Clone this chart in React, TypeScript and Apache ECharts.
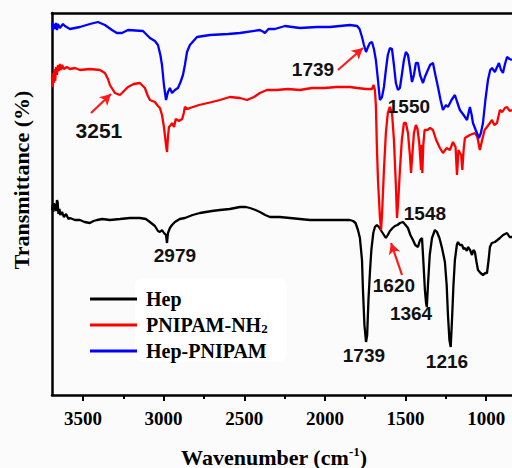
import React, { useEffect, useRef } from 'react';
import * as echarts from 'echarts';

const xMin = 840;
const xMax = 3692;
const majorTicks = [1000, 1500, 2000, 2500, 3000, 3500];
const minorTicks = [1250, 1750, 2250, 2750, 3250];
const seriesNames = ['Hep', 'PNIPAM-NH2', 'Hep-PNIPAM'];
const seriesColors = ['#000000', '#ff0000', '#0000ff'];

// [wavenumber (cm-1), transmittance (arb. units)]
const hep: number[][] = [
  [3692, 185], [3688, 190], [3684, 183], [3680, 192], [3676, 186], [3672, 191], [3667, 184], [3661, 195],
  [3657, 193], [3652, 181], [3646, 186], [3640, 180], [3630, 183], [3618, 178], [3605, 181], [3590, 176],
  [3581, 177], [3550, 175], [3519, 175], [3490, 173], [3457, 172], [3435, 174], [3413, 175], [3380, 176],
  [3333, 175], [3270, 176], [3209, 177], [3147, 177], [3110, 176], [3085, 173], [3054, 169], [3035, 164],
  [3023, 163], [3010, 165], [2998, 162], [2985, 160], [2979, 152], [2973, 162], [2961, 167], [2948, 170],
  [2930, 173], [2900, 176], [2868, 177], [2820, 180], [2775, 182], [2700, 184], [2651, 185], [2590, 186],
  [2527, 188], [2490, 188], [2465, 187], [2430, 185], [2403, 183], [2370, 180], [2341, 178], [2280, 178],
  [2217, 177], [2155, 176], [2093, 175], [2000, 175], [1930, 175], [1845, 175], [1825, 174], [1810, 172],
  [1795, 165], [1783, 157], [1770, 135], [1764, 105], [1755, 70], [1745, 53], [1738, 60], [1730, 95],
  [1720, 125], [1712, 145], [1700, 162], [1690, 168], [1678, 170], [1665, 168], [1646, 163], [1634, 160],
  [1622, 157], [1610, 160], [1597, 164], [1580, 167], [1566, 169], [1550, 170], [1535, 172], [1516, 173],
  [1500, 170], [1485, 167], [1470, 160], [1454, 155], [1440, 150], [1423, 148], [1410, 155], [1398, 157],
  [1390, 135], [1380, 105], [1373, 92], [1368, 88], [1361, 110], [1350, 140], [1336, 157], [1318, 165],
  [1305, 163], [1290, 157], [1274, 147], [1256, 133], [1245, 110], [1237, 80], [1228, 55], [1220, 48],
  [1212, 75], [1203, 110], [1194, 135], [1182, 150], [1175, 153], [1163, 150], [1150, 150], [1140, 146],
  [1132, 147], [1120, 144], [1113, 148], [1100, 145], [1088, 140], [1079, 145], [1070, 143], [1060, 133],
  [1051, 125], [1035, 122], [1020, 120], [1005, 122], [995, 122], [985, 135], [977, 148], [965, 152],
  [946, 153], [930, 155], [915, 157], [895, 160], [871, 162], [855, 158], [840, 158],
];

const pnipamNH2: number[][] = [
  [3692, 318], [3688, 308], [3684, 322], [3680, 312], [3676, 326], [3672, 314], [3667, 328], [3661, 320],
  [3655, 330], [3649, 324], [3643, 331], [3636, 325], [3630, 330], [3618, 326], [3600, 328], [3581, 326],
  [3550, 327], [3519, 325], [3457, 326], [3395, 325], [3364, 322], [3345, 316], [3333, 310], [3302, 302],
  [3271, 300], [3258, 302], [3240, 305], [3221, 308], [3185, 311], [3147, 312], [3116, 307], [3100, 300],
  [3085, 295], [3054, 293], [3035, 289], [3023, 287], [3010, 280], [2998, 268], [2985, 250], [2979, 243],
  [2973, 258], [2967, 268], [2955, 270], [2948, 272], [2935, 268], [2925, 276], [2905, 274], [2885, 276],
  [2875, 282], [2868, 288], [2850, 286], [2837, 287], [2780, 290], [2700, 293], [2651, 295], [2590, 298],
  [2527, 297], [2483, 295], [2440, 298], [2403, 302], [2360, 305], [2300, 305], [2230, 306], [2155, 305],
  [2080, 307], [2000, 307], [1930, 308], [1845, 308], [1800, 307], [1745, 306], [1708, 306], [1698, 310],
  [1690, 305], [1684, 290], [1678, 250], [1671, 215], [1659, 178], [1652, 165], [1646, 180], [1634, 225],
  [1622, 262], [1610, 282], [1597, 288], [1584, 282], [1572, 255], [1560, 210], [1553, 177], [1545, 195],
  [1535, 225], [1523, 255], [1510, 272], [1498, 272], [1485, 262], [1473, 240], [1466, 222], [1458, 240],
  [1448, 262], [1436, 270], [1426, 266], [1415, 252], [1404, 225], [1400, 250], [1396, 222], [1390, 250],
  [1382, 265], [1365, 265], [1348, 267], [1330, 265], [1310, 255], [1287, 247], [1268, 242], [1245, 247],
  [1225, 245], [1206, 253], [1190, 248], [1181, 220], [1172, 245], [1163, 242], [1155, 240], [1148, 225],
  [1140, 245], [1132, 257], [1101, 260], [1070, 262], [1055, 258], [1039, 245], [1025, 255], [1010, 265],
  [995, 268], [977, 272], [964, 275], [950, 270], [933, 272], [915, 285], [900, 283], [884, 287],
  [871, 288], [855, 284], [840, 285],
];

const hepPnipam: number[][] = [
  [3692, 372], [3686, 365], [3680, 371], [3674, 366], [3667, 372], [3661, 365], [3655, 371], [3643, 367],
  [3624, 371], [3612, 369], [3581, 366], [3550, 367], [3519, 368], [3457, 371], [3407, 373], [3364, 370],
  [3320, 365], [3290, 362], [3258, 362], [3221, 365], [3128, 364], [3085, 357], [3054, 354], [3035, 350],
  [3020, 340], [3010, 330], [2998, 310], [2985, 295], [2973, 303], [2961, 307], [2948, 302], [2930, 305],
  [2911, 307], [2895, 313], [2880, 320], [2868, 330], [2855, 343], [2837, 350], [2793, 358], [2713, 360],
  [2600, 361], [2527, 362], [2403, 365], [2380, 363], [2372, 362], [2350, 366], [2310, 366], [2248, 369],
  [2155, 367], [2050, 368], [1969, 368], [1845, 370], [1800, 369], [1785, 366], [1770, 358], [1758, 350],
  [1745, 343], [1733, 348], [1721, 352], [1708, 353], [1696, 346], [1684, 335], [1671, 315], [1659, 295],
  [1646, 298], [1634, 308], [1622, 325], [1610, 340], [1597, 347], [1584, 346], [1572, 330], [1560, 312],
  [1547, 305], [1535, 307], [1523, 320], [1510, 335], [1498, 343], [1485, 340], [1473, 328], [1460, 313],
  [1448, 320], [1436, 332], [1423, 332], [1410, 320], [1392, 312], [1380, 318], [1367, 323], [1348, 330],
  [1330, 332], [1315, 320], [1299, 308], [1283, 295], [1268, 285], [1250, 290], [1237, 288], [1215, 295],
  [1194, 300], [1178, 292], [1163, 285], [1140, 280], [1119, 275], [1101, 288], [1090, 280], [1082, 272],
  [1065, 265], [1045, 257], [1033, 262], [1020, 272], [1005, 295], [989, 315], [975, 325], [964, 327],
  [946, 323], [935, 327], [921, 332], [908, 325], [896, 322], [885, 330], [871, 338], [855, 336],
  [840, 335],
];

// peak annotations: text, wavenumber, transmittance, font size
const peakLabels: [string, number, number, number][] = [
  ['3251', 3401, 265, 21],
  ['1739', 2074, 326, 19],
  ['1550', 1479, 289, 19],
  ['2979', 2930, 140, 19],
  ['1548', 1380, 182, 19],
  ['1620', 1572, 110, 19],
  ['1364', 1466, 82, 19],
  ['1739', 1758, 40, 19],
  ['1216', 1243, 34, 19],
];

// arrows: from [w, t] to [w, t]
const arrows: number[][][] = [
  [[3450, 282], [3326, 301]],
  [[1919, 325], [1764, 347]],
  [[1522, 120], [1590, 152]],
];

const serif = 'Liberation Serif';
const sans = 'Liberation Sans';

function buildOption() {
  const datasets = [hep, pnipamNH2, hepPnipam];
  const series: any[] = datasets.map((d, i) => ({
    name: seriesNames[i],
    type: 'line',
    data: d,
    showSymbol: false,
    symbol: 'none',
    smooth: false,
    lineStyle: { color: seriesColors[i], width: 2.3 },
    itemStyle: { color: seriesColors[i] },
    emphasis: { disabled: true },
    silent: true,
    z: 2 + i,
  }));
  series[0].markPoint = {
    symbol: 'circle',
    symbolSize: 1,
    silent: true,
    itemStyle: { color: 'rgba(0,0,0,0)' },
    label: {
      show: true,
      position: 'inside',
      color: '#111',
      fontFamily: sans,
      fontWeight: 'bold',
      fontSize: 19,
      formatter: '{b}',
    },
    data: peakLabels.map(([t, w, v, s]) => ({ name: t, coord: [w, v], label: { fontSize: s } })),
  };
  series[1].markLine = {
    silent: true,
    symbol: ['none', 'arrow'],
    symbolSize: [9, 11],
    lineStyle: { color: '#ff1a1a', width: 2.2, type: 'solid' },
    label: { show: false },
    emphasis: { disabled: true },
    data: arrows.map(([a, b]) => [{ coord: a }, { coord: b }]),
  };

  const axisLineStyle = { color: '#000', width: 2.5 };
  return {
    animation: false,
    backgroundColor: '#fbfbfb',
    grid: { left: 52, right: 0, top: 13, bottom: 73, containLabel: false },
    xAxis: [
      {
        type: 'value', min: xMin, max: xMax, inverse: true, position: 'bottom',
        axisLine: { show: true, onZero: false, lineStyle: axisLineStyle },
        axisTick: { show: true, inside: false, length: 6, lineStyle: { color: '#000', width: 2 }, customValues: majorTicks },
        axisLabel: {
          show: true, customValues: majorTicks, margin: 14, color: '#000',
          fontFamily: serif, fontWeight: 'bold', fontSize: 19,
          formatter: (v: number) => String(v),
        },
        splitLine: { show: false },
      },
      {
        type: 'value', min: xMin, max: xMax, inverse: true, position: 'bottom',
        axisLine: { show: false, onZero: false },
        axisTick: { show: true, inside: false, length: 4, lineStyle: { color: '#000', width: 2 }, customValues: minorTicks },
        axisLabel: { show: false },
        splitLine: { show: false },
      },
      {
        type: 'value', min: xMin, max: xMax, inverse: true, position: 'top',
        axisLine: { show: true, onZero: false, lineStyle: axisLineStyle },
        axisTick: { show: false },
        axisLabel: { show: false },
        splitLine: { show: false },
      },
    ],
    yAxis: {
      type: 'value', min: 0, max: 382,
      axisLine: { show: true, onZero: false, lineStyle: axisLineStyle },
      axisTick: { show: false },
      axisLabel: { show: false },
      splitLine: { show: false },
    },
    legend: {
      orient: 'vertical',
      left: 85,
      top: 284,
      icon: 'rect',
      itemWidth: 47,
      itemHeight: 3,
      itemGap: 6,
      selectedMode: false,
      data: seriesNames,
      formatter: (name: string) => (name === 'PNIPAM-NH2' ? 'PNIPAM-NH{s|2}' : name),
      textStyle: {
        fontFamily: serif,
        fontWeight: 'bold',
        fontSize: 20,
        lineHeight: 20,
        color: '#000',
        padding: [0, 0, 0, 4],
        rich: {
          s: { fontFamily: serif, fontWeight: 'bold', fontSize: 13, lineHeight: 8, color: '#000', verticalAlign: 'bottom' },
        },
      },
    },
    graphic: [
      {
        type: 'rect', left: 135, top: 278, z: 0, silent: true,
        shape: { width: 152, height: 84, r: 8 },
        style: { fill: '#ffffff' },
      },
      {
        type: 'text', x: 21, y: 180, rotation: Math.PI / 2, silent: true,
        style: {
          text: 'Transmittance (%)', fill: '#000', fontFamily: serif, fontWeight: 'bold', fontSize: 22,
          align: 'center', verticalAlign: 'middle',
        },
      },
      {
        type: 'text', x: 274, y: 457, silent: true,
        style: {
          text: '{a|Wavenumber (cm}{s|-1}{a|)}',
          align: 'center', verticalAlign: 'middle',
          rich: {
            a: { fontFamily: serif, fontWeight: 'bold', fontSize: 22, lineHeight: 24, fill: '#000', color: '#000' },
            s: { fontFamily: serif, fontWeight: 'bold', fontSize: 13, lineHeight: 12, fill: '#000', color: '#000', verticalAlign: 'top' },
          },
        },
      },
    ],
    series,
  };
}

export default function App() {
  const ref = useRef<HTMLDivElement>(null);
  useEffect(() => {
    if (!ref.current) return;
    const chart = echarts.init(ref.current, null, { renderer: 'svg' });
    chart.setOption(buildOption() as any);
    return () => chart.dispose();
  }, []);
  return <div ref={ref} style={{ position: 'fixed', left: 0, top: 0, width: 512, height: 468 }} />;
}
